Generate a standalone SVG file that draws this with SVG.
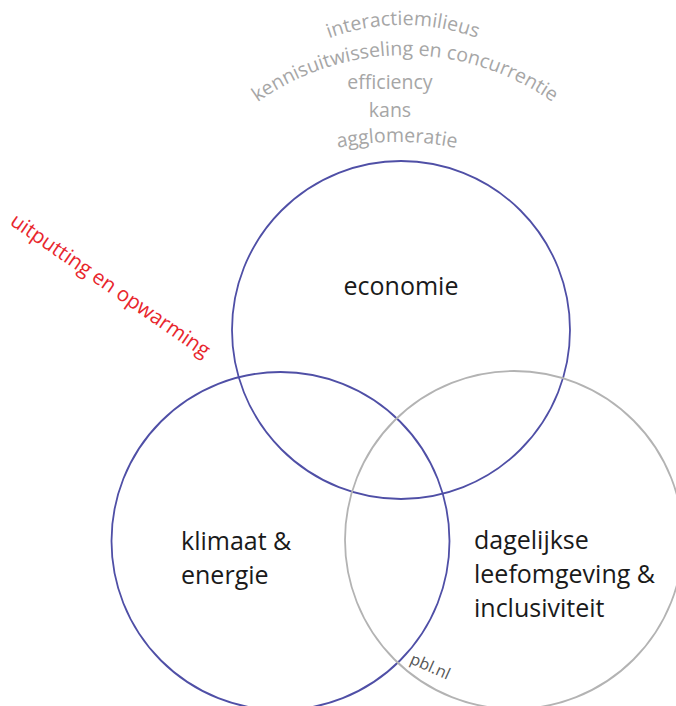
<svg xmlns="http://www.w3.org/2000/svg" xmlns:xlink="http://www.w3.org/1999/xlink" width="676" height="706" viewBox="0 0 676 706">
<style>
.blue{fill:none;stroke:#4f4fa6;stroke-width:1.8}
.grey{fill:none;stroke:#b3b3b3;stroke-width:1.8}
.lbl{font-family:"Open Sans","Noto Sans",sans-serif;font-size:25px;fill:#1a1a1a}
.kw{font-family:"Open Sans","Noto Sans",sans-serif;font-size:19.5px;fill:#a6a6a6}
.red{font-family:"Open Sans","Noto Sans",sans-serif;font-size:20.5px;fill:#e8262d}
.src{font-family:"Open Sans","Noto Sans",sans-serif;font-size:16px;fill:#555}
</style>
<defs>
<path id="arc1" d="M 303 49.7 A 215 215 0 0 1 503 49.7"/>
<path id="arc2" d="M 205 152 A 255 255 0 0 1 605 152"/>
<path id="arc3" d="M 317 152.8 A 303 303 0 0 1 477 152.8"/>
</defs>
<rect width="676" height="706" fill="#fff"/>
<g id="economie">
<circle class="blue" cx="401" cy="330" r="169"/>
<text class="lbl" x="401" y="295" text-anchor="middle">economie</text>
</g>
<g id="klimaat">
<circle class="blue" cx="280.5" cy="541" r="169"/>
<text class="lbl" x="181" y="550">klimaat &amp;</text>
<text class="lbl" x="181" y="584">energie</text>
</g>
<g id="leefomgeving">
<circle class="grey" cx="514" cy="540" r="169"/>
<text class="lbl" x="474" y="549">dagelijkse</text>
<text class="lbl" x="474" y="583">leefomgeving &amp;</text>
<text class="lbl" x="474" y="617">inclusiviteit</text>
</g>
<g id="keywords">
<text class="kw" text-anchor="middle"><textPath xlink:href="#arc1" href="#arc1" startOffset="50%">interactiemilieus</textPath></text>
<text class="kw" text-anchor="middle"><textPath xlink:href="#arc2" href="#arc2" startOffset="50%">kennisuitwisseling en concurrentie</textPath></text>
<text class="kw" x="390" y="89" text-anchor="middle">efficiency</text>
<text class="kw" x="390" y="117" text-anchor="middle">kans</text>
<text class="kw" text-anchor="middle"><textPath xlink:href="#arc3" href="#arc3" startOffset="50%">agglomeratie</textPath></text>
</g>
<g id="opwarming">
<text class="red" transform="translate(9,224) rotate(34.5)">uitputting en opwarming</text>
</g>
<g id="bron">
<text class="src" transform="translate(409,663) rotate(24)">pbl.nl</text>
</g>
<g id="connectors"></g>
</svg>
